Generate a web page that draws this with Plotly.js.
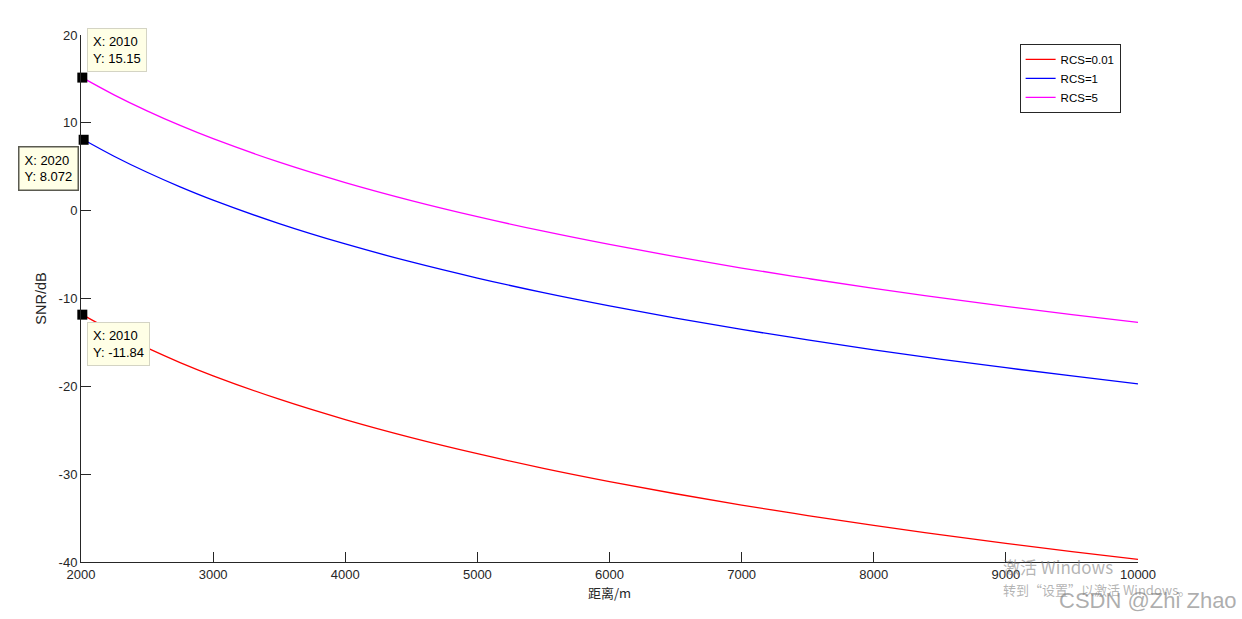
<!DOCTYPE html>
<html><head><meta charset="utf-8">
<script src="https://cdn.plot.ly/plotly-3.0.1.min.js"></script>
<style>html,body{margin:0;padding:0;background:#fff;}#chart{width:1242px;height:619px;}</style>
</head><body><div id="chart"></div>
<script>
const distance = [2010, 2250, 2500, 2750, 3000, 3500, 4000, 4500, 5000, 5500, 6000, 6500, 7000, 7500, 8000, 8500, 9000, 9500, 10000];
const snrRcs001 = [-11.84, -13.80, -15.63, -17.29, -18.80, -21.47, -23.79, -25.84, -27.67, -29.33, -30.84, -32.23, -33.52, -34.71, -35.84, -36.89, -37.88, -38.82, -39.71];
const snrRcs1 = [8.16, 6.20, 4.37, 2.71, 1.20, -1.47, -3.79, -5.84, -7.67, -9.33, -10.84, -12.23, -13.52, -14.71, -15.84, -16.89, -17.88, -18.82, -19.71];
const snrRcs5 = [15.15, 13.19, 11.36, 9.70, 8.19, 5.52, 3.20, 1.15, -0.68, -2.34, -3.85, -5.24, -6.53, -7.72, -8.85, -9.90, -10.89, -11.83, -12.72];
const seriesNames = ["RCS=0.01", "RCS=1", "RCS=5"];
const seriesColors = ["#ff0000", "#0000ff", "#ff00ff"];
const tipX = [2010, 2020, 2010];
const tipY = [15.15, 8.072, -11.84];
const xTicks = [2000, 3000, 4000, 5000, 6000, 7000, 8000, 9000, 10000];
const yTicks = [-40, -30, -20, -10, 0, 10, 20];

const font = "Liberation Sans, Arial, Helvetica, sans-serif";
const ys = [snrRcs001, snrRcs1, snrRcs5];
const traces = ys.map((y, i) => ({
  x: distance, y: y, type: "scatter", mode: "lines", name: seriesNames[i],
  line: {color: seriesColors[i], width: 1.3, shape: "spline"}
}));
traces.push({x: tipX, y: tipY, type: "scatter", mode: "markers", showlegend: false,
  marker: {symbol: "square", size: 10, color: "#000"}, cliponaxis: false, hoverinfo: "skip"});

const tipStyle = {showarrow: false, xref: "x", yref: "y", align: "left",
  bgcolor: "#ffffe6", bordercolor: "#d4d4c4", borderwidth: 1, borderpad: 5,
  font: {family: font, size: 13, color: "#000"}};
const wmFont = "Noto Sans CJK SC, sans-serif";
const annotations = [
  Object.assign({}, tipStyle, {x: tipX[0], y: tipY[0], text: "X: " + tipX[0] + "<br>Y: " + tipY[0], xanchor: "left", yanchor: "bottom", xshift: 5, yshift: 6}),
  Object.assign({}, tipStyle, {x: tipX[1], y: tipY[1], text: "X: " + tipX[1] + "<br>Y: " + tipY[1], xanchor: "right", yanchor: "top", xshift: -5, yshift: -6, bordercolor: "#5a5a50", borderwidth: 1.5}),
  Object.assign({}, tipStyle, {x: tipX[2], y: tipY[2], text: "X: " + tipX[2] + "<br>Y: " + tipY[2], xanchor: "left", yanchor: "top", xshift: 5, yshift: -7}),
  {xref: "paper", yref: "paper", x: 0.8705, y: -0.0076, xanchor: "left", yanchor: "middle", showarrow: false,
   text: "激活 Windows", font: {family: wmFont, size: 17, color: "rgba(130,130,130,0.6)"}},
  {xref: "paper", yref: "paper", x: 0.8705, y: -0.053, xanchor: "left", yanchor: "middle", showarrow: false,
   text: "转到“设置”以激活 Windows。", font: {family: wmFont, size: 13, color: "rgba(130,130,130,0.6)"}},
  {xref: "paper", yref: "paper", x: 1.0955, y: -0.074, xanchor: "right", yanchor: "middle", showarrow: false,
   text: "CSDN @Zhi Zhao", font: {family: font, size: 22, color: "rgba(120,120,120,0.6)"}}
];

const layout = {
  width: 1242, height: 619,
  margin: {l: 81, r: 104, t: 35, b: 57},
  paper_bgcolor: "#fff", plot_bgcolor: "#fff",
  font: {family: font, size: 13, color: "#262626"},
  showlegend: true,
  legend: {x: 0.888, y: 0.983, xanchor: "left", yanchor: "top", bgcolor: "#fff",
    bordercolor: "#262626", borderwidth: 1, font: {family: font, size: 11.5, color: "#000"},
    tracegroupgap: 0, itemwidth: 30},
  xaxis: {range: [2000, 10000], tickvals: xTicks, ticktext: xTicks.map(String),
    ticks: "inside", ticklen: 10, tickcolor: "#262626", showline: true, linecolor: "#262626",
    linewidth: 1, showgrid: false, zeroline: false, mirror: false,
    title: {text: "距离/m", font: {family: "Noto Sans CJK SC, sans-serif", size: 13, color: "#262626"}, standoff: 8}},
  yaxis: {range: [-40, 20], tickvals: yTicks, ticktext: yTicks.map(String),
    ticks: "inside", ticklen: 10, tickcolor: "#262626", showline: true, linecolor: "#262626",
    linewidth: 1, showgrid: false, zeroline: false, mirror: false,
    title: {text: "SNR/dB", font: {family: font, size: 14.5, color: "#262626"}, standoff: 8}},
  annotations: annotations
};
Plotly.newPlot("chart", traces, layout, {displayModeBar: false, staticPlot: true});
</script></body></html>
